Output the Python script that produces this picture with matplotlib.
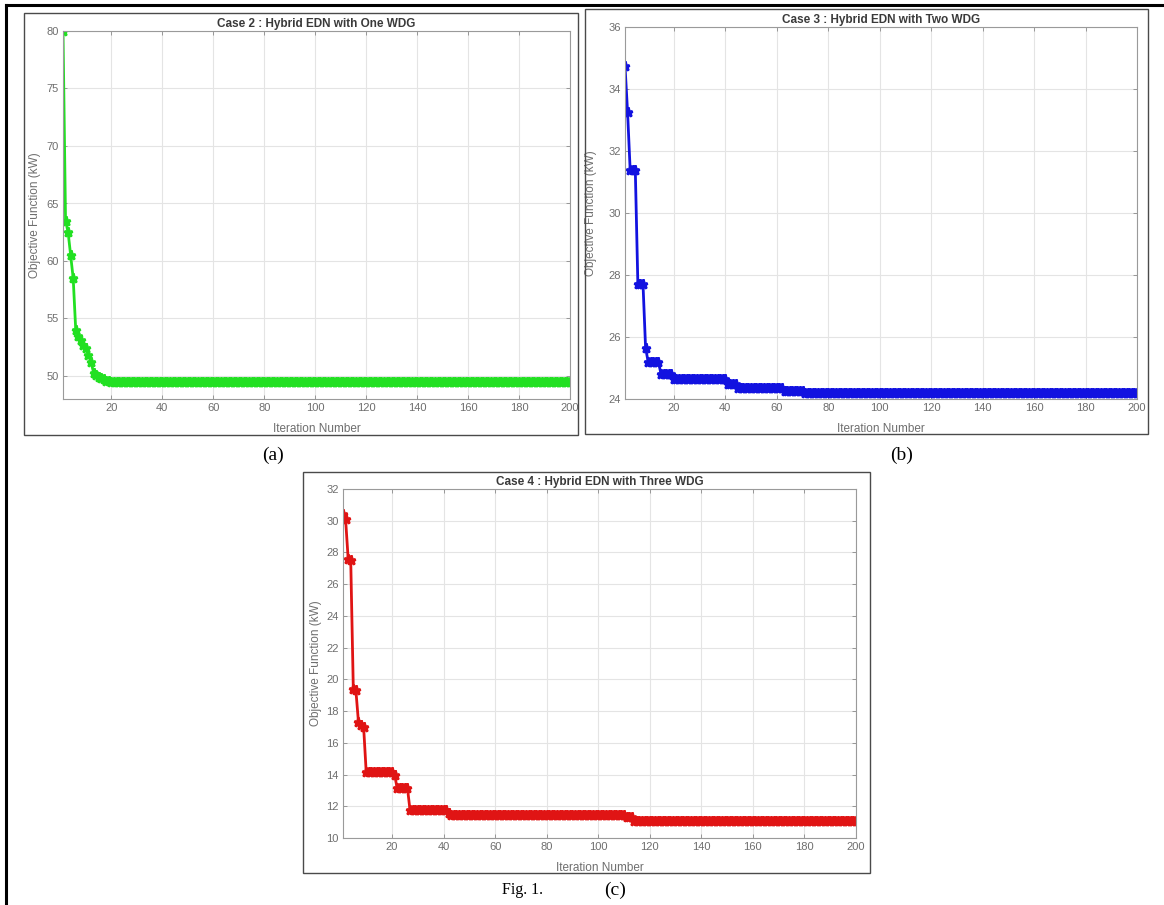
import numpy as np
import matplotlib
matplotlib.use("Agg")
import matplotlib.pyplot as plt
from matplotlib.patches import Rectangle
from matplotlib.lines import Line2D

W, H = 1164, 905

# convergence curves, stored as (value, number of iterations it is held)
case2_vals = [80.0, 63.5, 62.5, 60.5, 58.5, 54.0, 53.5, 53.1, 52.7, 52.4, 51.8,
              51.2, 50.3, 50.1, 49.9, 49.8, 49.7, 49.6, 49.55, 49.5]
case2_runs = [1, 1, 1, 1, 1, 1, 1, 1, 1, 1, 1, 1, 1, 1, 1, 1, 1, 1, 1, 181]

case3_vals = [34.75, 33.25, 31.4, 27.7, 25.65, 25.2, 24.8, 24.65, 24.5, 24.35, 24.25, 24.18]
case3_runs = [1, 1, 3, 3, 1, 5, 5, 21, 4, 18, 8, 130]

case4_vals = [30.4, 30.1, 27.6, 27.5, 19.4, 19.3, 17.3, 17.1, 17.0, 14.15, 14.0,
              13.15, 11.75, 11.6, 11.45, 11.3, 11.1, 11.05]
case4_runs = [1, 1, 1, 1, 1, 1, 1, 1, 1, 11, 1, 5, 15, 1, 68, 3, 39, 48]

titles = ["Case 2 : Hybrid EDN with One WDG",
          "Case 3 : Hybrid EDN with Two WDG",
          "Case 4 : Hybrid EDN with Three WDG"]
x_ticks = list(range(20, 201, 20))
y_ticks = [list(range(50, 81, 5)), list(range(24, 37, 2)), list(range(10, 33, 2))]
y_lims = [(48, 80), (24, 36), (10, 32)]
colors = ["#22e022", "#1212e0", "#e01414"]


def series(vals, runs):
    y = np.repeat(np.array(vals), runs)
    return np.arange(1, len(y) + 1), y


def fig_rect(l, t, r, b):
    return [l / W, 1 - b / H, (r - l) / W, (b - t) / H]


fig = plt.figure(figsize=(W / 100, H / 100), dpi=100)
fig.patch.set_facecolor("white")

# outer frame (left and top only, as in the scan)
fig.add_artist(Line2D([6 / W, 6 / W], [0, 1 - 5 / H], color="black", lw=2.2))
fig.add_artist(Line2D([6 / W, 1], [1 - 5 / H, 1 - 5 / H], color="black", lw=2.2))

# panel frames and axes positions in pixels
boxes = [(24, 13, 578, 435), (585, 9, 1148, 434), (303, 472, 870, 873)]
axes_px = [(63, 31, 570, 399), (625, 27, 1137, 399), (343, 489, 856, 838)]
ylab_pad = [4, 8, 3]

data = [series(case2_vals, case2_runs), series(case3_vals, case3_runs),
        series(case4_vals, case4_runs)]

for i in range(3):
    l, t, r, b = boxes[i]
    fig.add_artist(Rectangle((l / W, 1 - b / H), (r - l) / W, (b - t) / H,
                             transform=fig.transFigure, fill=False,
                             edgecolor="#4a4a4a", lw=1.0))
    al, at, ar, ab = axes_px[i]
    ax = fig.add_axes(fig_rect(*axes_px[i]))
    x, y = data[i]
    ax.plot(x, y, "-", color=colors[i], lw=2.0, marker="*", ms=6.5,
            mec=colors[i], mew=1.8)
    ax.set_xlim(1, 200)
    ax.set_ylim(*y_lims[i])
    ax.set_xticks(x_ticks)
    ax.set_yticks(y_ticks[i])
    ax.grid(True, color="#e4e4e4", lw=0.8)
    ax.tick_params(direction="in", length=3, width=0.6, colors="#8a8a8a",
                   labelcolor="#6e6e6e", labelsize=8, top=True, right=True, pad=3)
    for s in ax.spines.values():
        s.set_color("#9a9a9a")
        s.set_linewidth(0.8)
    ax.set_title(titles[i], fontsize=8.5, fontweight="bold", color="#3a3a3a",
                 family="Liberation Sans", pad=3)
    ax.set_xlabel("Iteration Number", fontsize=8.5, color="#6e6e6e",
                  family="Liberation Sans")
    ax.xaxis.set_label_coords(0.5, -(24) / (ab - at))
    ax.set_ylabel("Objective Function (kW)", fontsize=8.5, color="#6e6e6e",
                  family="Liberation Sans", labelpad=ylab_pad[i])
    for lab in ax.get_xticklabels() + ax.get_yticklabels():
        lab.set_family("Liberation Sans")

serif = "Liberation Serif"
fig.text(273 / W, 1 - 455 / H, "(a)", fontsize=14, family=serif, ha="center", va="center")
fig.text(902 / W, 1 - 455 / H, "(b)", fontsize=14, family=serif, ha="center", va="center")
fig.text(522 / W, 1 - 890 / H, "Fig. 1.", fontsize=11.5, family=serif, ha="center", va="center")
fig.text(615 / W, 1 - 890 / H, "(c)", fontsize=14, family=serif, ha="center", va="center")

fig.savefig("out.png", dpi=100, facecolor="white")
